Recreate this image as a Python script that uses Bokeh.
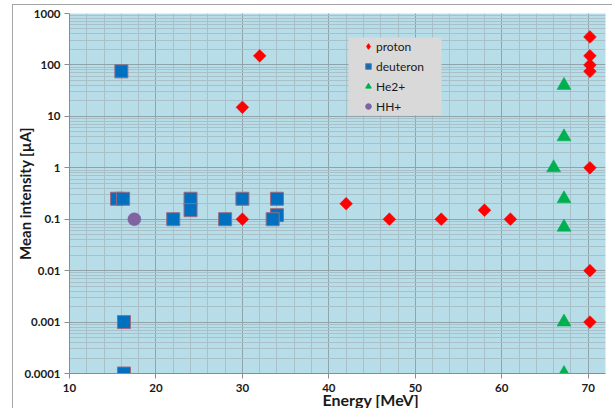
import math
from bokeh.plotting import figure
from bokeh.models import Range1d, FixedTicker, Legend, LegendItem, BoxAnnotation, Title
from bokeh.embed import file_html
from bokeh.resources import INLINE

# ---- data ----
proton_x = [30, 32, 30, 42, 47, 53, 58, 61, 70.2, 70.2, 70.2, 70.2, 70.2, 70.2, 70.2]
proton_y = [15, 150, 0.1, 0.2, 0.1, 0.1, 0.15, 0.1, 350, 150, 100, 75, 1, 0.01, 0.001]

deuteron_x = [16, 15.5, 16.2, 16.3, 16.3, 22, 24, 24, 28, 30, 34, 33.5, 34]
deuteron_y = [75, 0.25, 0.25, 0.001, 0.0001, 0.1, 0.25, 0.15, 0.1, 0.25, 0.12, 0.1, 0.25]

he_x = [67.2, 67.2, 66, 67.2, 67.2, 67.2, 67.2]
he_y = [40, 4, 1, 0.25, 0.07, 0.001, 0.0001]

hh_x = [17.5]
hh_y = [0.1]

x_ticks = [10, 20, 30, 40, 50, 60, 70]
x_minor = list(range(10, 73, 2))
y_ticks = [0.0001, 0.001, 0.01, 0.1, 1, 10, 100, 1000]
y_labels = ["0.0001", "0.001", "0.01", "0.1", "1", "10", "100", "1000"]
y_minor = [m * 10.0 ** k for k in range(-4, 3) for m in range(2, 10)]

FONT = "Lato"

p = figure(width=600, height=404,
           x_range=Range1d(10, 72), y_range=Range1d(1e-4, 1e3),
           y_axis_type="log", output_backend="svg", toolbar_location=None,
           min_border_left=55, min_border_right=8, min_border_top=8,
           min_border_bottom=36)
p.styles = {"margin-left": "12px", "margin-top": "4px",
            "border-left": "1px solid #a6a6a6", "border-top": "1px solid #a6a6a6"}

p.background_fill_color = "#b7dde8"
p.border_fill_color = "white"
p.outline_line_color = None

# grids
p.xgrid.ticker = FixedTicker(ticks=x_ticks, minor_ticks=x_minor)
p.xaxis.ticker = FixedTicker(ticks=x_ticks, minor_ticks=x_minor)
p.yaxis.ticker = FixedTicker(ticks=y_ticks, minor_ticks=y_minor)
p.ygrid.ticker = FixedTicker(ticks=y_ticks, minor_ticks=y_minor)
p.yaxis.major_label_overrides = {v: s for v, s in zip(y_ticks, y_labels)}

for g in (p.xgrid, p.ygrid):
    g.grid_line_color = "#8fa3aa"
    g.grid_line_width = 1
    g.minor_grid_line_color = "#a9c0c8"
    g.minor_grid_line_width = 1

for ax in (p.xaxis, p.yaxis):
    ax.axis_line_color = "#8c8c8c"
    ax.major_tick_line_color = "#8c8c8c"
    ax.major_tick_out = 5
    ax.major_tick_in = 0
    ax.minor_tick_line_color = None
    ax.major_label_text_font = FONT
    ax.major_label_text_font_style = "bold"
    ax.major_label_text_font_size = "11.5px"
    ax.major_label_text_color = "#1a1a1a"
    ax.major_label_standoff = 4

p.xaxis.major_label_standoff = 5

p.yaxis.axis_label = "Mean intensity [µA]"
p.yaxis.axis_label_text_font = FONT
p.yaxis.axis_label_text_font_style = "bold"
p.yaxis.axis_label_text_font_size = "15px"
p.yaxis.axis_label_text_color = "#1a1a1a"
p.yaxis.axis_label_standoff = -13

# legend-only renderers (drawn first, hidden beneath the real markers)
lp = p.scatter(proton_x[:1], proton_y[:1], marker="diamond", size=10,
               fill_color="#ff0000", line_color="#ff0000")
ld = p.scatter(deuteron_x[:1], deuteron_y[:1], marker="square", size=9,
               fill_color="#0070c0", line_color="#9b6b80")
lh = p.scatter(he_x[:1], he_y[:1], marker="triangle", size=10,
               fill_color="#00b050", line_color="#00b050")
lhh = p.scatter(hh_x[:1], hh_y[:1], marker="circle", size=9,
                fill_color="#8064a2", line_color="#8064a2")

# markers
p.scatter(deuteron_x, deuteron_y, marker="square", size=13,
          fill_color="#0070c0", line_color="#9b6b80", line_width=1)
p.scatter(proton_x, proton_y, marker="square", angle=math.pi / 4, size=9,
          fill_color="#ff0000", line_color="#ff0000", line_width=0.5)
p.scatter(he_x, he_y, marker="triangle", size=14,
          fill_color="#00b050", line_color="#00b050", line_width=0.5)
p.scatter(hh_x, hh_y, marker="circle", size=13,
          fill_color="#8064a2", line_color="#8064a2", line_width=0.5)

box = BoxAnnotation(left=279, right=372, top=336, bottom=258,
                    left_units="screen", right_units="screen",
                    top_units="screen", bottom_units="screen",
                    fill_color="#d9d9d9", fill_alpha=1, line_color=None)
p.add_layout(box)

legend = Legend(items=[LegendItem(label="proton", renderers=[lp]),
                       LegendItem(label="deuteron", renderers=[ld]),
                       LegendItem(label="He2+", renderers=[lh]),
                       LegendItem(label="HH+", renderers=[lhh])],
                location=(292, 259), padding=0, margin=0, spacing=4,
                glyph_width=14, glyph_height=16, label_height=16,
                label_standoff=1, label_text_font=FONT,
                label_text_font_size="12px", label_text_color="#1a1a1a",
                background_fill_alpha=0, border_line_color=None)
p.add_layout(legend)

xt = Title(text="Energy [MeV]", align="left", offset=253, standoff=-14,
           vertical_align="bottom",
           text_font=FONT, text_font_style="bold", text_font_size="16px",
           text_color="#1a1a1a")
p.add_layout(xt, "below")

open("out.html", "w").write(file_html(p, INLINE))
